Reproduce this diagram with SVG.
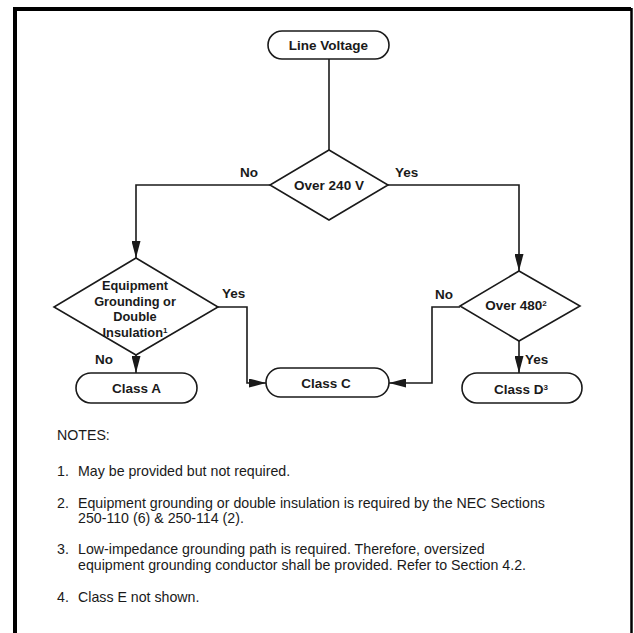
<svg xmlns="http://www.w3.org/2000/svg" width="634" height="633" viewBox="0 0 634 633">
<style>
.shape{fill:#fff;stroke:#1a1a1a;stroke-width:1.6}
.conn{fill:none;stroke:#1a1a1a;stroke-width:1.6}
.lbl{font-family:"Liberation Sans",Arial,sans-serif;font-weight:bold;font-size:13.5px;fill:#1a1a1a}
.dl{font-family:"Liberation Sans",Arial,sans-serif;font-weight:bold;font-size:12.8px;fill:#1a1a1a;text-anchor:middle}
.nl{font-family:"Liberation Sans",Arial,sans-serif;font-weight:bold;font-size:13.5px;fill:#1a1a1a;text-anchor:middle}
.note{font-family:"Liberation Sans",Arial,sans-serif;font-size:14.2px;fill:#1a1a1a}
.sup{font-size:8px}
</style>
<defs>
<marker id="ah" markerUnits="userSpaceOnUse" markerWidth="17" markerHeight="9" refX="17" refY="4.5" orient="auto">
<path d="M0,0 L17,4.5 L0,9 Z" fill="#1a1a1a"/>
</marker>
</defs>
<rect width="634" height="633" fill="#fff"/>
<g id="frame">
<path d="M15,633 V9 H631" fill="none" stroke="#000" stroke-width="4"/>
<path d="M631.5,8 V633" fill="none" stroke="#000" stroke-width="2.5"/>
</g>
<g id="connectors">
<path class="conn" d="M329,59 V150"/>
<path class="conn" d="M270,185 H136 V258" marker-end="url(#ah)"/>
<path class="conn" d="M388,185 H519 V271" marker-end="url(#ah)"/>
<path class="conn" d="M136,355 V373" marker-end="url(#ah)"/>
<path class="conn" d="M218,307 H247 V383 H266" marker-end="url(#ah)"/>
<path class="conn" d="M460,307 H432 V383 H389" marker-end="url(#ah)"/>
<path class="conn" d="M519,341 V373" marker-end="url(#ah)"/>
<text class="lbl" x="240" y="177">No</text>
<text class="lbl" x="395" y="177">Yes</text>
<text class="lbl" x="222" y="298">Yes</text>
<text class="lbl" x="95" y="364">No</text>
<text class="lbl" x="435" y="299">No</text>
<text class="lbl" x="525" y="364">Yes</text>
</g>
<g id="line-voltage">
<rect class="shape" x="268" y="31" width="121" height="28" rx="14"/>
<text class="nl" x="328.5" y="50">Line Voltage</text>
</g>
<g id="over-240">
<path class="shape" d="M329,150 L388,185 L329,220 L270,185 Z"/>
<text class="nl" x="329" y="190">Over 240 V</text>
</g>
<g id="equipment-grounding">
<path class="shape" d="M136,258 L218,307 L136,355 L54,307 Z"/>
<text class="dl" x="135" y="290">Equipment</text>
<text class="dl" x="135" y="305.5">Grounding or</text>
<text class="dl" x="135" y="321">Double</text>
<text class="dl" x="135" y="336.5">Insulation<tspan class="sup" dy="-4">1</tspan></text>
</g>
<g id="over-480">
<path class="shape" d="M519,271 L580,306 L519,341 L460,306 Z"/>
<text class="nl" x="516" y="310">Over 480<tspan class="sup" dy="-4">2</tspan></text>
</g>
<g id="class-a">
<rect class="shape" x="76" y="373" width="121" height="30" rx="15"/>
<text class="nl" x="136.5" y="393">Class A</text>
</g>
<g id="class-c">
<rect class="shape" x="266" y="368" width="123" height="29" rx="14.5"/>
<text class="nl" x="326" y="387.5">Class C</text>
</g>
<g id="class-d">
<rect class="shape" x="462" y="373" width="120" height="30" rx="15"/>
<text class="nl" x="521" y="393.5">Class D<tspan class="sup" dy="-4">3</tspan></text>
</g>
<g id="notes">
<text class="note" x="57" y="440">NOTES:</text>
<text class="note" x="57" y="476">1.</text>
<text class="note" x="78" y="476">May be provided but not required.</text>
<text class="note" x="57" y="508">2.</text>
<text class="note" x="78" y="508">Equipment grounding or double insulation is required by the NEC Sections</text>
<text class="note" x="78" y="522.5">250-110 (6) &amp; 250-114 (2).</text>
<text class="note" x="57" y="554">3.</text>
<text class="note" x="78" y="554">Low-impedance grounding path is required. Therefore, oversized</text>
<text class="note" x="78" y="569.5">equipment grounding conductor shall be provided. Refer to Section 4.2.</text>
<text class="note" x="57" y="602">4.</text>
<text class="note" x="78" y="602">Class E not shown.</text>
</g>
</svg>
